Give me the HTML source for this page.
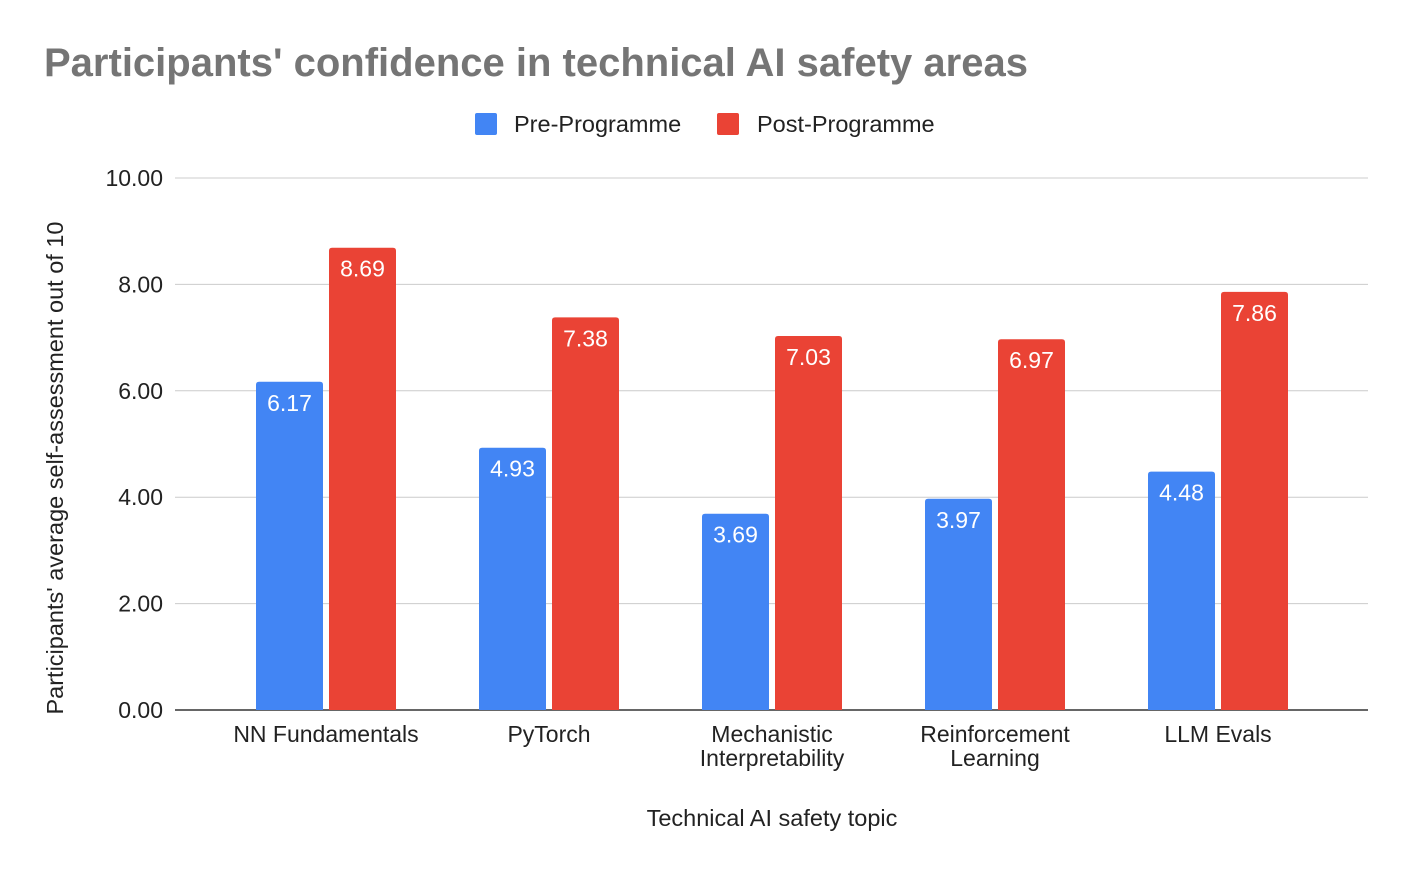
<!DOCTYPE html>
<html><head><meta charset="utf-8"><style>
body{margin:0;background:#fff;}
svg text{font-family:"Liberation Sans",Arial,sans-serif;}
</style></head><body>
<svg id="chart" width="1412" height="874">
<text x="44" y="76" font-size="40" font-weight="bold" fill="#757575">Participants' confidence in technical AI safety areas</text>
<g>
<rect x="475" y="113" width="22" height="22" rx="2" fill="#4285f4"/>
<text x="514" y="132" font-size="23.5" fill="#222">Pre-Programme</text>
<rect x="717" y="113" width="22" height="22" rx="2" fill="#ea4335"/>
<text x="757" y="132" font-size="23.5" fill="#222">Post-Programme</text>
</g>
<g id="grid"></g><g id="bars"></g><g id="xl"></g>
<text transform="translate(63,468) rotate(-90)" text-anchor="middle" font-size="23.5" fill="#222">Participants' average self-assessment out of 10</text>
<text x="772" y="826" text-anchor="middle" font-size="23.5" fill="#222">Technical AI safety topic</text>
</svg>
<script>
const categories=[["NN Fundamentals"],["PyTorch"],["Mechanistic","Interpretability"],["Reinforcement","Learning"],["LLM Evals"]];
const preValues=[6.17,4.93,3.69,3.97,4.48];
const postValues=[8.69,7.38,7.03,6.97,7.86];
const yTicks=[0,2,4,6,8,10];
const NS="http://www.w3.org/2000/svg";
const X0=175,X1=1368,Y0=710,Y1=178,YMAX=10;
const y=v=>Y0-(v/YMAX)*(Y0-Y1);
const C0=326,STEP=223;
const cx=i=>C0+STEP*i;
function mk(p,tag,a){const e=document.createElementNS(NS,tag);for(const k in a)e.setAttribute(k,a[k]);p.appendChild(e);return e;}
const grid=document.getElementById('grid'),bars=document.getElementById('bars'),xl=document.getElementById('xl');
yTicks.forEach(t=>{
 const l=mk(grid,'line',{x1:X0,x2:X1,y1:y(t),y2:y(t),stroke:t===0?'#333':'#ccc','stroke-width':t===0?1.5:1});
 
 
 const tx=mk(grid,'text',{x:163,y:y(t)+8,'text-anchor':'end','font-size':23,fill:'#222'});
 tx.textContent=t.toFixed(2);
 
 
});
const BW=67,GAP=6;
function bar(i,v,color,x,name){
 const top=y(v);
 const r=mk(bars,'path',{d:`M${x},${Y0}V${top+3}Q${x},${top} ${x+3},${top}H${x+BW-3}Q${x+BW},${top} ${x+BW},${top+3}V${Y0}Z`,fill:color});
 
 
 const t=mk(bars,'text',{x:x+BW/2,y:top+29,'text-anchor':'middle','font-size':23,fill:'#fff'});
 t.textContent=v.toFixed(2);
 
 
}
categories.forEach((c,i)=>{
 bar(i,preValues[i],'#4285f4',cx(i)-GAP/2-BW,'bar-pre');
 bar(i,postValues[i],'#ea4335',cx(i)+GAP/2,'bar-post');
 c.forEach((line,j)=>{
  const t=mk(xl,'text',{x:cx(i),y:742+j*24,'text-anchor':'middle','font-size':23,fill:'#222'});
  t.textContent=line;
  
  
 });
});
</script>
</body></html>
